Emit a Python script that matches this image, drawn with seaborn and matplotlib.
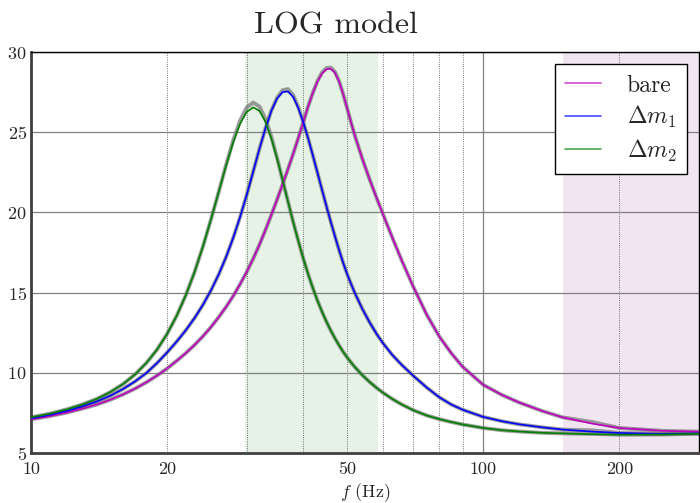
import matplotlib
matplotlib.use('Agg')
import matplotlib.pyplot as plt
import matplotlib.ticker as mticker
import seaborn as sns
import pandas as pd

sns.set_style('white')
plt.rcParams['font.family'] = ['serif']
plt.rcParams['font.serif'] = ['cmr10']
plt.rcParams['mathtext.fontset'] = 'cm'
plt.rcParams['axes.formatter.use_mathtext'] = True

# frequency grid (Hz)
freq = [10, 11, 12, 13, 14, 15, 16, 17, 18, 19, 20, 21, 22, 23, 24, 25, 26, 27, 28, 29,
        30, 31, 32, 33, 34, 35, 36, 37, 38, 39, 40, 41, 42, 43, 44, 45, 46, 47, 48, 49,
        50, 51, 52, 54, 56, 58, 60, 63, 66, 70, 75, 80, 85, 90, 100, 110, 120, 135, 150,
        175, 200, 250, 300]

# measured curves
bare = [7.10, 7.30, 7.52, 7.77, 8.03, 8.33, 8.66, 9.02, 9.41, 9.83, 10.27, 10.75, 11.23, 11.74, 12.28, 12.85, 13.47, 14.11, 14.79, 15.53,
        16.30, 17.12, 17.99, 18.91, 19.85, 20.80, 21.75, 22.70, 23.66, 24.64, 25.62, 26.61, 27.45, 28.16, 28.66, 28.93, 28.96, 28.71, 28.16, 27.38,
        26.50, 25.62, 24.80, 23.36, 22.10, 20.96, 19.90, 18.40, 17.02, 15.38, 13.62, 12.25, 11.22, 10.38, 9.25, 8.62, 8.15, 7.62, 7.22,
        6.82, 6.56, 6.38, 6.33]
dm1 = [7.16, 7.38, 7.62, 7.91, 8.22, 8.58, 9.00, 9.47, 9.99, 10.61, 11.27, 11.95, 12.66, 13.42, 14.24, 15.14, 16.13, 17.22, 18.42, 19.72,
       21.11, 22.55, 23.97, 25.25, 26.33, 27.10, 27.50, 27.54, 27.19, 26.51, 25.62, 24.62, 23.55, 22.47, 21.41, 20.39, 19.42, 18.51, 17.65, 16.86,
       16.16, 15.55, 14.98, 14.00, 13.17, 12.46, 11.85, 11.10, 10.50, 9.82, 9.08, 8.47, 8.02, 7.70, 7.25, 6.98, 6.79, 6.60, 6.46,
       6.33, 6.25, 6.19, 6.22]
dm2 = [7.22, 7.45, 7.72, 8.03, 8.38, 8.81, 9.31, 9.91, 10.62, 11.45, 12.43, 13.56, 14.85, 16.29, 17.88, 19.56, 21.27, 22.92, 24.38, 25.53,
       26.27, 26.55, 26.33, 25.64, 24.61, 23.36, 22.02, 20.68, 19.40, 18.22, 17.13, 16.15, 15.28, 14.50, 13.81, 13.19, 12.64, 12.15, 11.71, 11.31,
       10.96, 10.65, 10.36, 9.86, 9.44, 9.08, 8.76, 8.36, 8.03, 7.67, 7.34, 7.11, 6.93, 6.78, 6.56, 6.42, 6.34, 6.26, 6.22,
       6.17, 6.14, 6.15, 6.20]

# LOG model fits
bare_fit = [7.10, 7.30, 7.52, 7.77, 8.03, 8.33, 8.66, 9.02, 9.41, 9.83, 10.27, 10.75, 11.23, 11.74, 12.28, 12.85, 13.47, 14.11, 14.79, 15.53,
            16.30, 17.12, 17.99, 18.91, 19.85, 20.80, 21.75, 22.70, 23.66, 24.64, 25.62, 26.61, 27.47, 28.20, 28.72, 29.00, 29.03, 28.76, 28.18, 27.38,
            26.50, 25.62, 24.80, 23.36, 22.10, 20.96, 19.90, 18.40, 17.02, 15.38, 13.62, 12.25, 11.22, 10.38, 9.25, 8.62, 8.15, 7.62, 7.22,
            6.92, 6.56, 6.38, 6.33]
dm1_fit = [7.16, 7.38, 7.62, 7.91, 8.22, 8.58, 9.00, 9.47, 9.99, 10.61, 11.27, 11.95, 12.66, 13.42, 14.24, 15.14, 16.13, 17.22, 18.42, 19.72,
           21.11, 22.55, 23.97, 25.25, 26.36, 27.15, 27.62, 27.69, 27.31, 26.56, 25.62, 24.62, 23.55, 22.47, 21.41, 20.39, 19.42, 18.51, 17.65, 16.86,
           16.16, 15.55, 14.98, 14.00, 13.17, 12.46, 11.85, 11.10, 10.50, 9.82, 9.08, 8.47, 8.02, 7.70, 7.25, 6.98, 6.79, 6.60, 6.46,
           6.41, 6.25, 6.19, 6.22]
dm2_fit = [7.22, 7.45, 7.72, 8.03, 8.38, 8.81, 9.31, 9.91, 10.62, 11.45, 12.43, 13.56, 14.85, 16.29, 17.88, 19.56, 21.27, 22.97, 24.50, 25.73,
           26.55, 26.85, 26.60, 25.82, 24.71, 23.40, 22.02, 20.68, 19.40, 18.22, 17.13, 16.15, 15.28, 14.50, 13.81, 13.19, 12.64, 12.15, 11.71, 11.31,
           10.96, 10.65, 10.36, 9.86, 9.44, 9.08, 8.76, 8.36, 8.03, 7.67, 7.34, 7.11, 6.93, 6.78, 6.56, 6.42, 6.34, 6.26, 6.22,
           6.19, 6.14, 6.15, 6.20]

df = pd.DataFrame({'f': freq, 'bare': bare, 'dm1': dm1, 'dm2': dm2,
                   'bare_fit': bare_fit, 'dm1_fit': dm1_fit, 'dm2_fit': dm2_fit})

fig = plt.figure(figsize=(7, 5.03), dpi=100)
ax = fig.add_axes([0.0443, 0.0994, 0.9543, 0.7972])

# frequency bands
ax.axvspan(29.7, 58.5, color='green', alpha=0.1, lw=0, zorder=0)
ax.axvspan(150, 300, color='purple', alpha=0.1, lw=0, zorder=0)

# fits (grey, behind)
for col in ['bare_fit', 'dm1_fit', 'dm2_fit']:
    sns.lineplot(data=df, x='f', y=col, ax=ax, color='0.45', lw=2.8, alpha=0.7, zorder=2)

# measurements
sns.lineplot(data=df, x='f', y='bare', ax=ax, color='m', lw=1.2, label='bare', zorder=3)
sns.lineplot(data=df, x='f', y='dm1', ax=ax, color='b', lw=1.2, label=r'$\Delta m_1$', zorder=3)
sns.lineplot(data=df, x='f', y='dm2', ax=ax, color='g', lw=1.2, label=r'$\Delta m_2$', zorder=3)

ax.set_xscale('log')
ax.set_xlim(10, 300)
ax.set_ylim(5, 30)
ax.set_yticks([5, 10, 15, 20, 25, 30])

shown = {10, 20, 50, 100, 200}
fmt = mticker.FuncFormatter(lambda v, p: '%d' % round(v) if round(v) in shown else '')
ax.xaxis.set_major_formatter(fmt)
ax.xaxis.set_minor_formatter(fmt)
ax.xaxis.set_minor_locator(mticker.LogLocator(base=10, subs=range(2, 10)))

ax.grid(True, which='major', color='0.5', ls='-', lw=0.9, zorder=1)
ax.grid(True, which='minor', axis='x', color='k', ls=':', lw=0.6, alpha=0.7, zorder=1)
ax.set_axisbelow(True)

ax.tick_params(axis='both', which='both', direction='in', labelsize=13)
ax.tick_params(axis='x', which='both', pad=6)
ax.tick_params(axis='y', pad=3)
ax.tick_params(axis='x', which='minor', length=3)

for s in ['left', 'bottom']:
    ax.spines[s].set_linewidth(2)
    ax.spines[s].set_color('0.25')
for s in ['top', 'right']:
    ax.spines[s].set_linewidth(1)
    ax.spines[s].set_color('k')

ax.set_xlabel(r'$f$ (Hz)', fontsize=13, labelpad=3)
ax.set_ylabel('')
ax.set_title('LOG model', fontsize=23, pad=13, x=0.457)

handles, labels = ax.get_legend_handles_labels()
leg = ax.legend(handles[-3:], labels[-3:], loc='upper right', fontsize=17, frameon=True,
                fancybox=False, edgecolor='k', framealpha=1, handlelength=1.5,
                handletextpad=1.1, labelspacing=0.32, borderpad=0.45, borderaxespad=0.5)
leg.get_frame().set_linewidth(1)
for line in leg.get_lines():
    line.set_alpha(0.7)

fig.savefig('out.png', dpi=100)
